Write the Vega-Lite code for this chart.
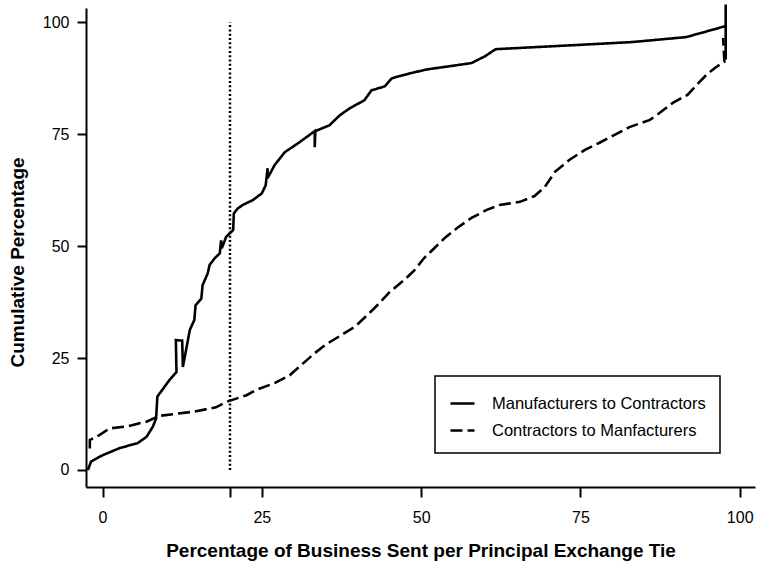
{
  "$schema": "https://vega.github.io/schema/vega-lite/v6.json",
  "width": 669,
  "height": 479,
  "autosize": "none",
  "padding": {"left": 86, "top": 8, "right": 2, "bottom": 76},
  "background": "white",
  "config": {
    "view": {"stroke": null},
    "font": "Liberation Sans",
    "axis": {
      "grid": false,
      "domainColor": "black",
      "domainWidth": 2,
      "tickColor": "black",
      "tickWidth": 2,
      "labelColor": "black",
      "labelFont": "Liberation Sans",
      "labelFontSize": 16,
      "titleFont": "Liberation Sans",
      "titleFontSize": 19,
      "titleFontWeight": "bold",
      "titleColor": "black"
    },
    "legend": {
      "strokeWidth": 1.5
    }
  },
  "datasets": {
    "curves": [
      {"series": "Manufacturers to Contractors", "i": 1, "x": -2.3, "y": 0},
      {"series": "Manufacturers to Contractors", "i": 2, "x": -1.8, "y": 1.9},
      {"series": "Manufacturers to Contractors", "i": 3, "x": 0.0, "y": 3.3},
      {"series": "Manufacturers to Contractors", "i": 4, "x": 2.7, "y": 4.9},
      {"series": "Manufacturers to Contractors", "i": 5, "x": 5.5, "y": 6.0},
      {"series": "Manufacturers to Contractors", "i": 6, "x": 6.9, "y": 7.4},
      {"series": "Manufacturers to Contractors", "i": 7, "x": 7.9, "y": 9.7},
      {"series": "Manufacturers to Contractors", "i": 8, "x": 8.4, "y": 11.5},
      {"series": "Manufacturers to Contractors", "i": 9, "x": 8.6, "y": 16.4},
      {"series": "Manufacturers to Contractors", "i": 10, "x": 10.5, "y": 20.1},
      {"series": "Manufacturers to Contractors", "i": 11, "x": 11.6, "y": 21.9},
      {"series": "Manufacturers to Contractors", "i": 12, "x": 11.5, "y": 29.0},
      {"series": "Manufacturers to Contractors", "i": 13, "x": 12.5, "y": 28.9},
      {"series": "Manufacturers to Contractors", "i": 14, "x": 12.6, "y": 23.0},
      {"series": "Manufacturers to Contractors", "i": 15, "x": 13.7, "y": 31.3},
      {"series": "Manufacturers to Contractors", "i": 16, "x": 14.4, "y": 33.5},
      {"series": "Manufacturers to Contractors", "i": 17, "x": 14.6, "y": 36.8},
      {"series": "Manufacturers to Contractors", "i": 18, "x": 15.5, "y": 38.3},
      {"series": "Manufacturers to Contractors", "i": 19, "x": 15.7, "y": 41.3},
      {"series": "Manufacturers to Contractors", "i": 20, "x": 16.5, "y": 43.9},
      {"series": "Manufacturers to Contractors", "i": 21, "x": 16.8, "y": 45.8},
      {"series": "Manufacturers to Contractors", "i": 22, "x": 17.6, "y": 47.3},
      {"series": "Manufacturers to Contractors", "i": 23, "x": 18.4, "y": 48.4},
      {"series": "Manufacturers to Contractors", "i": 24, "x": 18.6, "y": 51.3},
      {"series": "Manufacturers to Contractors", "i": 25, "x": 18.7, "y": 49.5},
      {"series": "Manufacturers to Contractors", "i": 26, "x": 19.4, "y": 52.1},
      {"series": "Manufacturers to Contractors", "i": 27, "x": 20.5, "y": 53.6},
      {"series": "Manufacturers to Contractors", "i": 28, "x": 20.6, "y": 57.3},
      {"series": "Manufacturers to Contractors", "i": 29, "x": 21.2, "y": 58.4},
      {"series": "Manufacturers to Contractors", "i": 30, "x": 22.0, "y": 59.2},
      {"series": "Manufacturers to Contractors", "i": 31, "x": 23.6, "y": 60.3},
      {"series": "Manufacturers to Contractors", "i": 32, "x": 25.0, "y": 61.8},
      {"series": "Manufacturers to Contractors", "i": 33, "x": 25.6, "y": 63.6},
      {"series": "Manufacturers to Contractors", "i": 34, "x": 25.9, "y": 67.4},
      {"series": "Manufacturers to Contractors", "i": 35, "x": 25.9, "y": 65.2},
      {"series": "Manufacturers to Contractors", "i": 36, "x": 27.0, "y": 68.1},
      {"series": "Manufacturers to Contractors", "i": 37, "x": 28.6, "y": 71.0},
      {"series": "Manufacturers to Contractors", "i": 38, "x": 30.9, "y": 73.2},
      {"series": "Manufacturers to Contractors", "i": 39, "x": 33.3, "y": 75.7},
      {"series": "Manufacturers to Contractors", "i": 40, "x": 33.3, "y": 72.1},
      {"series": "Manufacturers to Contractors", "i": 41, "x": 33.4, "y": 75.7},
      {"series": "Manufacturers to Contractors", "i": 42, "x": 35.6, "y": 77.0},
      {"series": "Manufacturers to Contractors", "i": 43, "x": 37.2, "y": 79.2},
      {"series": "Manufacturers to Contractors", "i": 44, "x": 38.8, "y": 80.8},
      {"series": "Manufacturers to Contractors", "i": 45, "x": 41.1, "y": 82.6},
      {"series": "Manufacturers to Contractors", "i": 46, "x": 42.2, "y": 84.8},
      {"series": "Manufacturers to Contractors", "i": 47, "x": 44.3, "y": 85.7},
      {"series": "Manufacturers to Contractors", "i": 48, "x": 45.4, "y": 87.5},
      {"series": "Manufacturers to Contractors", "i": 49, "x": 48.2, "y": 88.6},
      {"series": "Manufacturers to Contractors", "i": 50, "x": 51.0, "y": 89.5},
      {"series": "Manufacturers to Contractors", "i": 51, "x": 54.5, "y": 90.2},
      {"series": "Manufacturers to Contractors", "i": 52, "x": 57.9, "y": 90.9},
      {"series": "Manufacturers to Contractors", "i": 53, "x": 60.0, "y": 92.4},
      {"series": "Manufacturers to Contractors", "i": 54, "x": 61.7, "y": 94.0},
      {"series": "Manufacturers to Contractors", "i": 55, "x": 78.0, "y": 95.2},
      {"series": "Manufacturers to Contractors", "i": 56, "x": 83.2, "y": 95.6},
      {"series": "Manufacturers to Contractors", "i": 57, "x": 91.6, "y": 96.7},
      {"series": "Manufacturers to Contractors", "i": 58, "x": 97.4, "y": 99.0},
      {"series": "Manufacturers to Contractors", "i": 59, "x": 97.8, "y": 99.1},
      {"series": "Manufacturers to Contractors", "i": 60, "x": 97.8, "y": 104.0},
      {"series": "Manufacturers to Contractors", "i": 61, "x": 97.8, "y": 91.7},
      {"series": "Contractors to Manfacturers", "i": 1, "x": -2.0, "y": 4.8},
      {"series": "Contractors to Manfacturers", "i": 2, "x": -2.0, "y": 6.7},
      {"series": "Contractors to Manfacturers", "i": 3, "x": -0.5, "y": 7.8},
      {"series": "Contractors to Manfacturers", "i": 4, "x": 1.1, "y": 9.3},
      {"series": "Contractors to Manfacturers", "i": 5, "x": 3.7, "y": 9.7},
      {"series": "Contractors to Manfacturers", "i": 6, "x": 6.9, "y": 10.8},
      {"series": "Contractors to Manfacturers", "i": 7, "x": 8.9, "y": 12.1},
      {"series": "Contractors to Manfacturers", "i": 8, "x": 14.2, "y": 13.0},
      {"series": "Contractors to Manfacturers", "i": 9, "x": 17.8, "y": 14.0},
      {"series": "Contractors to Manfacturers", "i": 10, "x": 19.4, "y": 15.2},
      {"series": "Contractors to Manfacturers", "i": 11, "x": 22.6, "y": 16.7},
      {"series": "Contractors to Manfacturers", "i": 12, "x": 24.1, "y": 17.9},
      {"series": "Contractors to Manfacturers", "i": 13, "x": 27.0, "y": 19.4},
      {"series": "Contractors to Manfacturers", "i": 14, "x": 29.4, "y": 21.2},
      {"series": "Contractors to Manfacturers", "i": 15, "x": 31.7, "y": 24.1},
      {"series": "Contractors to Manfacturers", "i": 16, "x": 33.3, "y": 26.1},
      {"series": "Contractors to Manfacturers", "i": 17, "x": 34.9, "y": 27.9},
      {"series": "Contractors to Manfacturers", "i": 18, "x": 37.2, "y": 29.9},
      {"series": "Contractors to Manfacturers", "i": 19, "x": 39.6, "y": 32.0},
      {"series": "Contractors to Manfacturers", "i": 20, "x": 41.1, "y": 34.0},
      {"series": "Contractors to Manfacturers", "i": 21, "x": 43.2, "y": 36.9},
      {"series": "Contractors to Manfacturers", "i": 22, "x": 45.1, "y": 39.8},
      {"series": "Contractors to Manfacturers", "i": 23, "x": 47.4, "y": 42.5},
      {"series": "Contractors to Manfacturers", "i": 24, "x": 49.0, "y": 44.7},
      {"series": "Contractors to Manfacturers", "i": 25, "x": 50.5, "y": 47.4},
      {"series": "Contractors to Manfacturers", "i": 26, "x": 52.1, "y": 49.6},
      {"series": "Contractors to Manfacturers", "i": 27, "x": 53.7, "y": 51.8},
      {"series": "Contractors to Manfacturers", "i": 28, "x": 55.7, "y": 54.1},
      {"series": "Contractors to Manfacturers", "i": 29, "x": 57.9, "y": 56.3},
      {"series": "Contractors to Manfacturers", "i": 30, "x": 60.3, "y": 58.1},
      {"series": "Contractors to Manfacturers", "i": 31, "x": 62.3, "y": 59.2},
      {"series": "Contractors to Manfacturers", "i": 32, "x": 65.5, "y": 59.9},
      {"series": "Contractors to Manfacturers", "i": 33, "x": 67.8, "y": 61.2},
      {"series": "Contractors to Manfacturers", "i": 34, "x": 69.4, "y": 63.2},
      {"series": "Contractors to Manfacturers", "i": 35, "x": 71.0, "y": 66.6},
      {"series": "Contractors to Manfacturers", "i": 36, "x": 73.3, "y": 69.3},
      {"series": "Contractors to Manfacturers", "i": 37, "x": 75.7, "y": 71.5},
      {"series": "Contractors to Manfacturers", "i": 38, "x": 78.0, "y": 73.1},
      {"series": "Contractors to Manfacturers", "i": 39, "x": 82.7, "y": 76.6},
      {"series": "Contractors to Manfacturers", "i": 40, "x": 85.9, "y": 78.2},
      {"series": "Contractors to Manfacturers", "i": 41, "x": 87.0, "y": 79.3},
      {"series": "Contractors to Manfacturers", "i": 42, "x": 89.5, "y": 82.0},
      {"series": "Contractors to Manfacturers", "i": 43, "x": 91.8, "y": 83.8},
      {"series": "Contractors to Manfacturers", "i": 44, "x": 93.7, "y": 86.7},
      {"series": "Contractors to Manfacturers", "i": 45, "x": 94.8, "y": 88.3},
      {"series": "Contractors to Manfacturers", "i": 46, "x": 96.1, "y": 89.8},
      {"series": "Contractors to Manfacturers", "i": 47, "x": 97.6, "y": 91.2},
      {"series": "Contractors to Manfacturers", "i": 48, "x": 97.4, "y": 96.5}
    ],
    "ref": [{"x": 20, "y": 0, "y2": 100}]
  },
  "encoding": {
    "x": {
      "field": "x",
      "type": "quantitative",
      "scale": {"domain": [-2.6, 102.4], "nice": false, "zero": false},
      "axis": {
        "title": "Percentage of Business Sent per Principal Exchange Tie",
        "values": [0, 20, 25, 50, 75, 100],
        "labelExpr": "datum.value === 20 ? '' : datum.label",
        "tickSize": 10,
        "labelPadding": 12,
        "labelFlush": false,
        "labelOverlap": false,
        "titleY": 69,
        "titleBaseline": "alphabetic"
      }
    },
    "y": {
      "field": "y",
      "type": "quantitative",
      "scale": {"domain": [-3.8, 103.2], "nice": false, "zero": false},
      "axis": {
        "title": "Cumulative Percentage",
        "values": [0, 25, 50, 75, 100],
        "tickSize": 9,
        "labelPadding": 8,
        "labelFlush": false,
        "labelOverlap": false,
        "titleX": -63,
        "titleY": 254,
        "titleBaseline": "alphabetic"
      }
    }
  },
  "layer": [
    {
      "data": {"name": "ref"},
      "mark": {"type": "rule", "color": "black", "strokeWidth": 2.5, "strokeDash": [2, 2.3], "strokeCap": "butt"},
      "encoding": {"y2": {"field": "y2"}}
    },
    {
      "data": {"name": "curves"},
      "mark": {"type": "line", "color": "black", "strokeWidth": 2.6, "clip": false, "strokeJoin": "miter"},
      "encoding": {
        "order": {"field": "i", "type": "quantitative"},
        "strokeDash": {
          "field": "series",
          "type": "nominal",
          "scale": {
            "domain": ["Manufacturers to Contractors", "Contractors to Manfacturers"],
            "range": [[1, 0], [12, 5]]
          },
          "legend": {
            "orient": "none",
            "legendX": 349,
            "legendY": 368,
            "title": null,
            "strokeColor": "black",
            "padding": 14,
            "rowPadding": 5,
            "labelFontSize": 16.5,
            "labelFont": "Liberation Sans",
            "labelColor": "black",
            "labelOffset": 16,
            "labelLimit": 400,
            "symbolType": "stroke",
            "symbolSize": 576,
            "symbolStrokeWidth": 2.5,
            "symbolStrokeColor": "black"
          }
        }
      }
    }
  ]
}
